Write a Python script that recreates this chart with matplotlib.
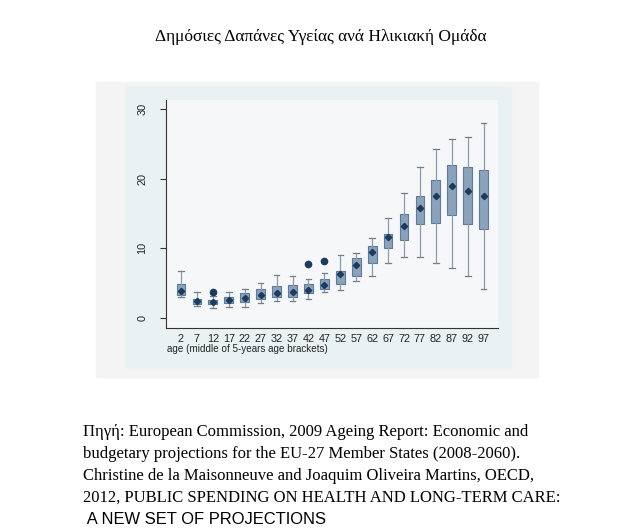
import matplotlib.pyplot as plt
from matplotlib.patches import Rectangle

# age brackets (middle of 5-year brackets)
ages = [2, 7, 12, 17, 22, 27, 32, 37, 42, 47, 52, 57, 62, 67, 72, 77, 82, 87, 92, 97]

# box statistics
whis_low = [3.0, 1.7, 1.4, 1.65, 1.65, 2.1, 2.4, 2.4, 2.8, 3.7, 4.0, 5.3, 6.0, 7.85, 8.8, 8.8, 7.9, 7.15, 6.0, 4.1]
q1 = [3.3, 2.05, 2.0, 2.2, 2.35, 2.8, 3.05, 3.05, 3.55, 4.2, 4.9, 6.1, 7.85, 10.1, 11.2, 13.45, 13.7, 14.75, 13.45, 12.8]
center = [3.9, 2.5, 2.35, 2.6, 2.9, 3.3, 3.65, 3.8, 4.05, 4.8, 6.35, 7.65, 9.5, 11.6, 13.15, 15.85, 17.55, 18.9, 18.3, 17.45]
q3 = [4.9, 2.8, 2.6, 2.95, 3.55, 4.1, 4.65, 4.7, 4.85, 5.55, 6.7, 8.55, 10.35, 12.05, 15.0, 17.5, 19.75, 21.95, 21.75, 21.25]
whis_high = [6.75, 3.8, 3.15, 3.8, 4.2, 5.1, 6.2, 6.0, 5.55, 6.5, 9.0, 9.3, 11.45, 14.3, 17.95, 21.7, 24.2, 25.7, 26.0, 27.95]
outliers = [[], [], [3.7], [], [], [], [], [], [7.75], [8.2], [], [], [], [], [], [], [], [], [], []]

title = "Δημόσιες Δαπάνες Υγείας ανά Ηλικιακή Ομάδα"
source_lines = [
    "Πηγή: European Commission, 2009 Ageing Report: Economic and",
    "budgetary projections for the EU-27 Member States (2008-2060).",
    "Christine de la Maisonneuve and Joaquim Oliveira Martins, OECD,",
    "2012, PUBLIC SPENDING ON HEALTH AND LONG-TERM CARE:",
]
last_line = " A NEW SET OF PROJECTIONS"

W, H = 643, 530
fig = plt.figure(figsize=(W / 100, H / 100), dpi=100)
fig.patch.set_facecolor("white")

# outer frame of the pasted image and the inner graph region
fig.patches.append(Rectangle((96 / W, 1 - 377 / H), (538 - 96) / W, (377 - 82) / H,
                             transform=fig.transFigure, color="#f4f4f4", zorder=-2))
fig.patches.append(Rectangle((126 / W, 1 - 367 / H), (511 - 126) / W, (367 - 87) / H,
                             transform=fig.transFigure, color="#e9f1f3", zorder=-1))

ax = fig.add_axes([165.7 / W, 1 - 328 / H, (498 - 165.7) / W, (328 - 100) / H])
ax.set_zorder(1)
ax.set_facecolor("#f5f7f9")

stats = []
for i in range(len(ages)):
    stats.append({"whislo": whis_low[i], "q1": q1[i], "med": center[i], "mean": center[i],
                  "q3": q3[i], "whishi": whis_high[i], "fliers": outliers[i]})

pos = list(range(len(ages)))
ax.bxp(stats, positions=pos, widths=0.55, capwidths=0.35, patch_artist=True,
       showmeans=True,
       boxprops=dict(facecolor="#8aa2ba", edgecolor="#5e7b97", linewidth=0.8),
       whiskerprops=dict(color="#8f9ca8", linewidth=0.9),
       capprops=dict(color="#6f7f8f", linewidth=0.9),
       medianprops=dict(linewidth=0),
       meanprops=dict(marker="D", markersize=3.2, markerfacecolor="#1d3b5e",
                      markeredgecolor="#1d3b5e"),
       flierprops=dict(marker="o", markersize=4.5, markerfacecolor="#1d3b5e",
                       markeredgecolor="#1d3b5e"))

axis_font = "Liberation Sans"
ax.set_xlim(-0.96, 19.9)
ax.set_ylim(-1.43, 31.3)
ax.set_xticks(pos)
ax.set_xticklabels([str(a) for a in ages], family=axis_font)
ax.set_yticks([0, 10, 20, 30])
ax.set_yticklabels(["0", "10", "20", "30"], rotation=90, va="center", family=axis_font)
ax.tick_params(axis="x", length=0, pad=4, labelsize=7.8, colors="#222222")
ax.tick_params(axis="y", length=4, pad=9, labelsize=7.8, colors="#222222", color="#333333")
for s in ["top", "right"]:
    ax.spines[s].set_visible(False)
for s in ["left", "bottom"]:
    ax.spines[s].set_color("#333333")
    ax.spines[s].set_linewidth(0.8)

fig.text(167 / W, 1 - 349 / H, "age (middle of 5-years age brackets)", fontsize=7.1,
         family=axis_font, color="#222222", ha="left", va="center")

fig.text(321 / W, 1 - 37 / H, title, fontsize=12.5, family="Liberation Serif",
         ha="center", va="center")

y0 = 432
for k, line in enumerate(source_lines):
    fig.text(83 / W, 1 - (y0 + 22 * k) / H, line, fontsize=12.0, family="Liberation Serif",
             ha="left", va="center")
fig.text(83 / W, 1 - (y0 + 22 * 4) / H, last_line, fontsize=11.9, family="Liberation Sans",
         ha="left", va="center")

fig.savefig("out.png", dpi=100)
